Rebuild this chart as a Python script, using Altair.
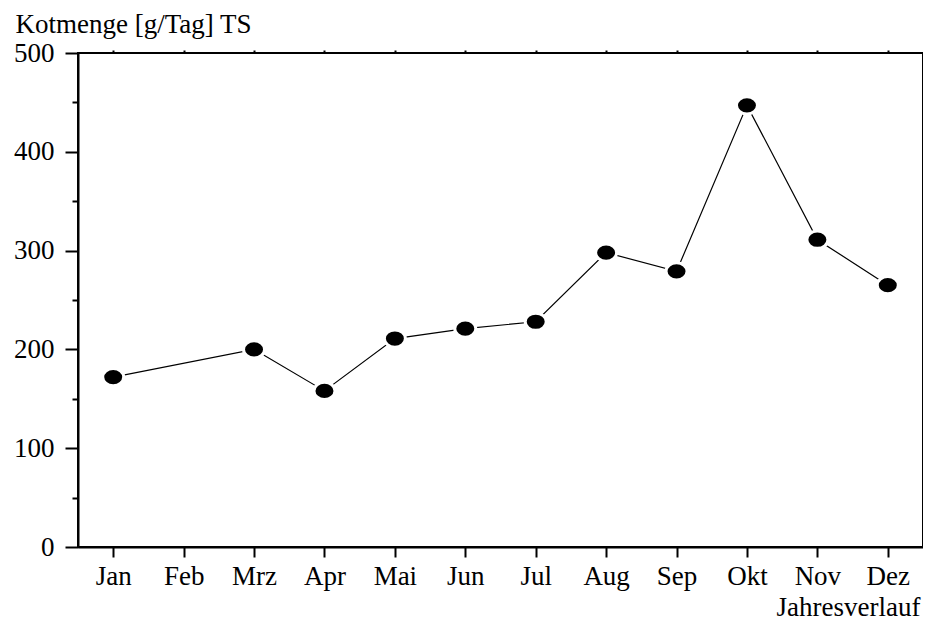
import altair as alt
import pandas as pd

months = ["Jan", "Feb", "Mrz", "Apr", "Mai", "Jun", "Jul", "Aug", "Sep", "Okt", "Nov", "Dez"]
data_months = ["Jan", "Mrz", "Apr", "Mai", "Jun", "Jul", "Aug", "Sep", "Okt", "Nov", "Dez"]
values = [172, 200, 158, 211, 221, 228, 298, 279, 447, 311, 265]
y_ticks = [0, 50, 100, 150, 200, 250, 300, 350, 400, 450, 500]

df = pd.DataFrame({"Monat": data_months, "Kot": values})

FONT = "Liberation Serif"
FS = 27
W = 845

xscale = alt.Scale(type="point", domain=months, padding=0.5)
yscale = alt.Scale(domain=[0, 500], nice=False)

x_bottom = alt.X(
    "Monat:N", sort=months, scale=xscale,
    axis=alt.Axis(
        orient="bottom", labelAngle=0, labelFont=FONT, labelFontSize=FS, labelColor="black",
        labelPadding=6, tickSize=10, tickWidth=2, tickColor="black",
        domainColor="black", domainWidth=2, grid=False,
        title="Jahresverlauf", titleFont=FONT, titleFontSize=FS, titleFontWeight="normal",
        titleColor="black", titleAnchor="end", titleAlign="right", titleBaseline="alphabetic",
        titleX=W - 3, titleY=68,
    ),
)
y_left = alt.Y(
    "Kot:Q", scale=yscale,
    axis=alt.Axis(
        orient="left", values=y_ticks,
        labelExpr="datum.value % 100 === 0 ? datum.label : ''",
        labelFont=FONT, labelFontSize=FS, labelColor="black", labelPadding=11,
        tickSize={"condition": {"test": "datum.value % 100 === 0", "value": 13}, "value": 6},
        tickWidth=2, tickColor="black", domainColor="black", domainWidth=2, grid=False,
        title="Kotmenge [g/Tag] TS", titleFont=FONT, titleFontSize=FS, titleFontWeight="normal",
        titleColor="black", titleAngle=0, titleAlign="left", titleBaseline="alphabetic",
        titleX=-63, titleY=-21,
    ),
)

x_top = alt.X(
    "Monat:N", sort=months, scale=xscale,
    axis=alt.Axis(orient="top", labels=False, tickSize=3, tickWidth=2, tickColor="black",
                  domain=False, grid=False, title=None),
)
y_right = alt.Y(
    "Kot:Q", scale=yscale,
    axis=alt.Axis(orient="right", values=y_ticks, labels=False, tickSize=2, tickWidth=2,
                  tickColor="black", domain=False, grid=False, title=None),
)

line = alt.Chart(df).mark_line(color="black", strokeWidth=1.2).encode(x=x_bottom, y=y_left)

ellipse = "M -1 0 A 1 0.82 0 1 0 1 0 A 1 0.82 0 1 0 -1 0 Z"
points = alt.Chart(df).mark_point(
    shape=ellipse, size=441, filled=True, fill="black", fillOpacity=1,
    stroke="white", strokeWidth=3, opacity=1,
).encode(x=x_top, y=y_right)

chart = (
    alt.layer(line, points)
    .resolve_axis(x="independent", y="independent")
    .properties(
        width=W, height=494,
        autosize=alt.AutoSizeParams(type="none"),
        padding={"left": 70, "top": 45, "right": 0, "bottom": 74},
        background="white",
    )
    .configure_view(stroke="black", strokeWidth=2)
)

chart.save("out.html", embed_options={"renderer": "svg", "actions": False})
